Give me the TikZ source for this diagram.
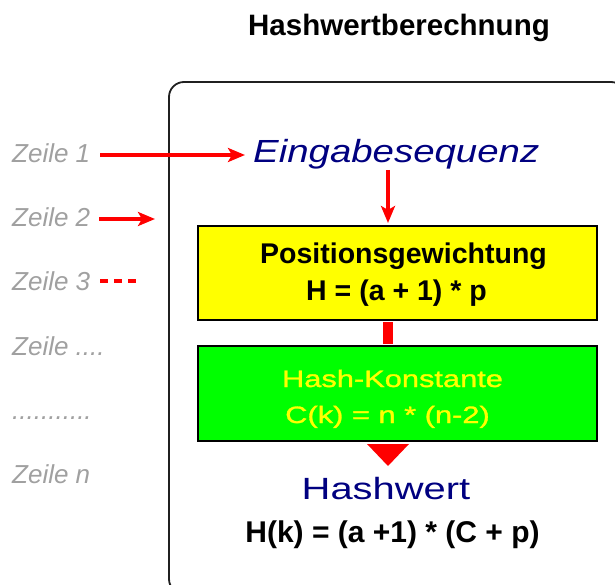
\documentclass[tikz,border=0pt]{standalone}
\usepackage{fontspec}
\setmainfont{Liberation Sans}
\newfontfamily\fwide[FakeStretch=1.3]{Liberation Sans}
\newfontfamily\fwidebold[FakeStretch=1.3,FakeBold=1.2]{Liberation Sans}
\newfontfamily\fwideit[FakeStretch=1.2]{Liberation Sans}
\usetikzlibrary{arrows.meta,calc}
\definecolor{zgray}{HTML}{A0A0A0}
\definecolor{navyblue}{HTML}{000080}
\definecolor{framegray}{HTML}{202020}
\definecolor{boxyellow}{HTML}{FFFF00}
\definecolor{boxgreen}{HTML}{00FF00}
\begin{document}
\begin{tikzpicture}[x=1pt,y=-1pt,
  lbl/.style={inner sep=0pt, anchor=base},
  zeile/.style={inner sep=0pt, anchor=base west, text=zgray, font=\fontsize{26pt}{26pt}\selectfont\itshape},
  redarrow/.style={draw=red, line width=4.5pt, -{Stealth[length=17pt,width=14pt,inset=4pt]}},
  procbox/.style={draw=black, line width=2pt, minimum width=399pt, inner sep=0pt},
  boldtxt/.style={lbl, font=\fontsize{28.5pt}{29pt}\selectfont\bfseries},
  widetxt/.style={lbl, font=\fontsize{23.7pt}{24pt}\selectfont\fwidebold}
]
\useasboundingbox (0,0) rectangle (615,585);
% frame
\draw[line width=1.8pt, framegray, rounded corners=15pt] (169,82) rectangle (626,594);
% title
\node[lbl, font=\fontsize{29.5pt}{30pt}\selectfont\bfseries] (title) at (399,36) {Hashwertberechnung};
% Zeile labels
\node[zeile] (z1) at (12,163) {Zeile 1};
\node[zeile] (z2) at (12,227) {Zeile 2};
\node[zeile] (z3) at (12,290) {Zeile 3};
\node[zeile] (z4) at (12,355) {Zeile ....};
\node[zeile] (z5) at (12,419) {...........};
\node[zeile] (zn) at (12,483) {Zeile n};
% main labels
\node[lbl, anchor=base west, text=navyblue, font=\fontsize{32pt}{32pt}\selectfont\fwideit\itshape] (ein) at (253,163) {Eingabesequenz};
\coordinate (axis) at (388,0);
\coordinate (z1start) at (100,155);
\coordinate (z1end) at (245,155);
\coordinate (z2start) at (99,219);
\coordinate (z2end) at (155,219);
\coordinate (z3start) at (100,281);
\coordinate (z3end) at (136,281);
% boxes
\node[procbox, fill=boxyellow, minimum height=94pt] (box1) at (397.5,273) {};
\node[procbox, fill=boxgreen, minimum height=95pt] (box2) at (397.5,393.5) {};
\node[boldtxt] (pos) at (403.5,263) {Positionsgewichtung};
\node[boldtxt] (hform) at (396.5,300) {H = (a + 1) * p};
\node[widetxt, text=boxyellow] (hk) at (392.5,387) {Hash-Konstante};
\node[widetxt, text=boxyellow] (ck) at (387.5,423) {C(k) = n * (n-2)};
\node[lbl, text=navyblue, font=\fontsize{30.7pt}{31pt}\selectfont\fwide] (hw) at (386,499) {Hashwert};
\node[lbl, font=\fontsize{30pt}{30pt}\selectfont\bfseries] (hkform) at (392.5,542) {H(k) = (a +1) * (C + p)};
% connectors
\draw[redarrow] (z1start) -- (z1end);
\draw[redarrow] (z2start) -- (z2end);
\draw[red, line width=4.5pt, dash pattern=on 8pt off 6pt] (z3start) -- (z3end);
\draw[redarrow, shorten >=2pt] (ein.south -| axis) -- (box1.north -| axis);
\draw[red, line width=10pt, shorten <=1pt, shorten >=1pt] (box1.south -| axis) -- (box2.north -| axis);
\fill[red] ($(box2.south -| axis)+(-21,2)$) -- ($(box2.south -| axis)+(21,2)$) -- ($(box2.south -| axis)+(0,24)$) -- cycle;
\end{tikzpicture}
\end{document}
